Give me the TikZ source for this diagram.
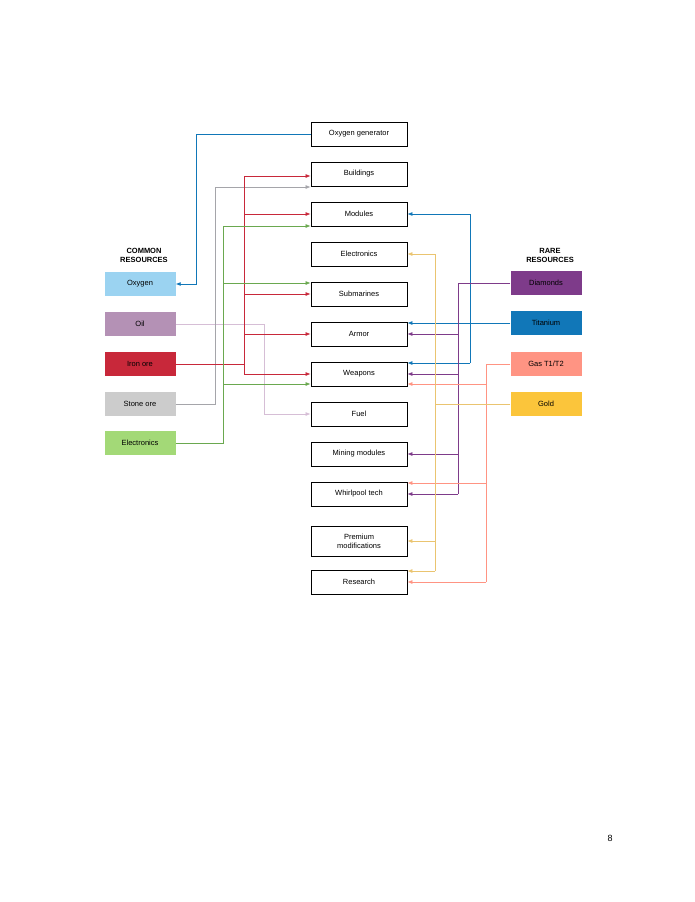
\documentclass[tikz,border=0pt]{standalone}
\usepackage{fontspec}
\setmainfont{Liberation Sans}
\usetikzlibrary{arrows.meta}
\definecolor{cblue}{RGB}{17,119,184}
\definecolor{cltblue}{RGB}{155,211,241}
\definecolor{coil}{RGB}{180,145,181}
\definecolor{coilline}{RGB}{214,190,214}
\definecolor{cred}{RGB}{200,40,58}
\definecolor{cgray}{RGB}{204,204,204}
\definecolor{cgrayline}{RGB}{165,165,170}
\definecolor{cgreen}{RGB}{163,217,119}
\definecolor{cgreenline}{RGB}{106,168,79}
\definecolor{cpurple}{RGB}{126,59,138}
\definecolor{cgas}{RGB}{255,148,131}
\definecolor{cgold}{RGB}{251,197,59}
\definecolor{cgoldline}{RGB}{234,196,112}
\tikzset{
  item/.style={draw,line width=0.8pt,minimum width=96pt,minimum height=24pt,
    align=center,font=\fontsize{7.5}{9}\selectfont,inner sep=1pt},
  res/.style={fill=#1,minimum width=71pt,minimum height=24pt,
    font=\fontsize{7.5}{9}\selectfont,inner sep=1pt},
  head/.style={align=center,font=\bfseries\fontsize{7.5}{9}\selectfont},
  link/.style={draw=#1,line width=0.7pt,-{Latex[length=5pt,width=4pt]}}
}
\begin{document}
\begin{tikzpicture}[x=1pt,y=-1pt]
\useasboundingbox (0,0) rectangle (695,902);

% products
\node[item] (ogen) at (359,134) {Oxygen generator};
\node[item] (bld) at (359,174) {Buildings};
\node[item] (mod) at (359,214) {Modules};
\node[item] (elec) at (359,254) {Electronics};
\node[item] (sub) at (359,294) {Submarines};
\node[item] (arm) at (359,334) {Armor};
\node[item] (weap) at (359,374) {Weapons};
\node[item] (fuel) at (359,414) {Fuel};
\node[item] (mine) at (359,454) {Mining modules};
\node[item] (whirl) at (359,494) {Whirlpool tech};
\node[item,minimum height=30pt] (prem) at (359,541) {Premium\\modifications};
\node[item] (rsch) at (359,582) {Research};

% common resources
\node[head] at (144,255) {COMMON\\RESOURCES};
\node[res=cltblue] (oxy) at (140,284) {Oxygen};
\node[res=coil] (oil) at (140,324) {Oil};
\node[res=cred] (iron) at (140,364) {Iron ore};
\node[res=cgray] (stone) at (140,404) {Stone ore};
\node[res=cgreen] (lelec) at (140,443) {Electronics};

% rare resources
\node[head] at (550,255) {RARE\\RESOURCES};
\node[res=cpurple] (dia) at (546,283) {Diamonds};
\node[res=cblue] (tit) at (546,323) {Titanium};
\node[res=cgas] (gas) at (546,364) {Gas T1/T2};
\node[res=cgold] (gold) at (546,404) {Gold};

\node at (610,838) {\small 8};

% left side
\draw[link=cblue] (ogen.west) -| (196,284) -- (oxy.east);
\draw[link=coilline] (oil.east) -| (264,414) -- (fuel.west);
\draw[link=cgrayline] (stone.east) -| (215,187) -- (bld.west |- 0,187);
\draw[cred,line width=0.7pt] (iron.east) -- (244,364) (244,176) -- (244,374);
\foreach \n/\y in {bld/176,mod/214,sub/294,arm/334,weap/374}
  \draw[link=cred] (244,\y) -- (\n.west |- 0,\y);
\draw[cgreenline,line width=0.7pt] (lelec.east) -| (223,226);
\foreach \n/\y in {mod/226,sub/283,weap/384}
  \draw[link=cgreenline] (223,\y) -- (\n.west |- 0,\y);

% right side
\draw[link=cblue] (tit.west) -- (arm.east |- 0,323);
\draw[cblue,line width=0.7pt] (470,323) -- (470,214) (470,323) -- (470,363);
\foreach \n/\y in {mod/214,weap/363}
  \draw[link=cblue] (470,\y) -- (\n.east |- 0,\y);
\draw[cpurple,line width=0.7pt] (dia.west) -| (458,494);
\foreach \n/\y in {arm/334,weap/374,mine/454,whirl/494}
  \draw[link=cpurple] (458,\y) -- (\n.east |- 0,\y);
\draw[cgas,line width=0.7pt] (gas.west) -| (486,582);
\foreach \n/\y in {weap/384,whirl/483,rsch/582}
  \draw[link=cgas] (486,\y) -- (\n.east |- 0,\y);
\draw[cgoldline,line width=0.7pt] (gold.west) -- (435,404) (435,254) -- (435,571);
\foreach \n/\y in {elec/254,prem/541,rsch/571}
  \draw[link=cgoldline] (435,\y) -- (\n.east |- 0,\y);
\end{tikzpicture}
\end{document}
